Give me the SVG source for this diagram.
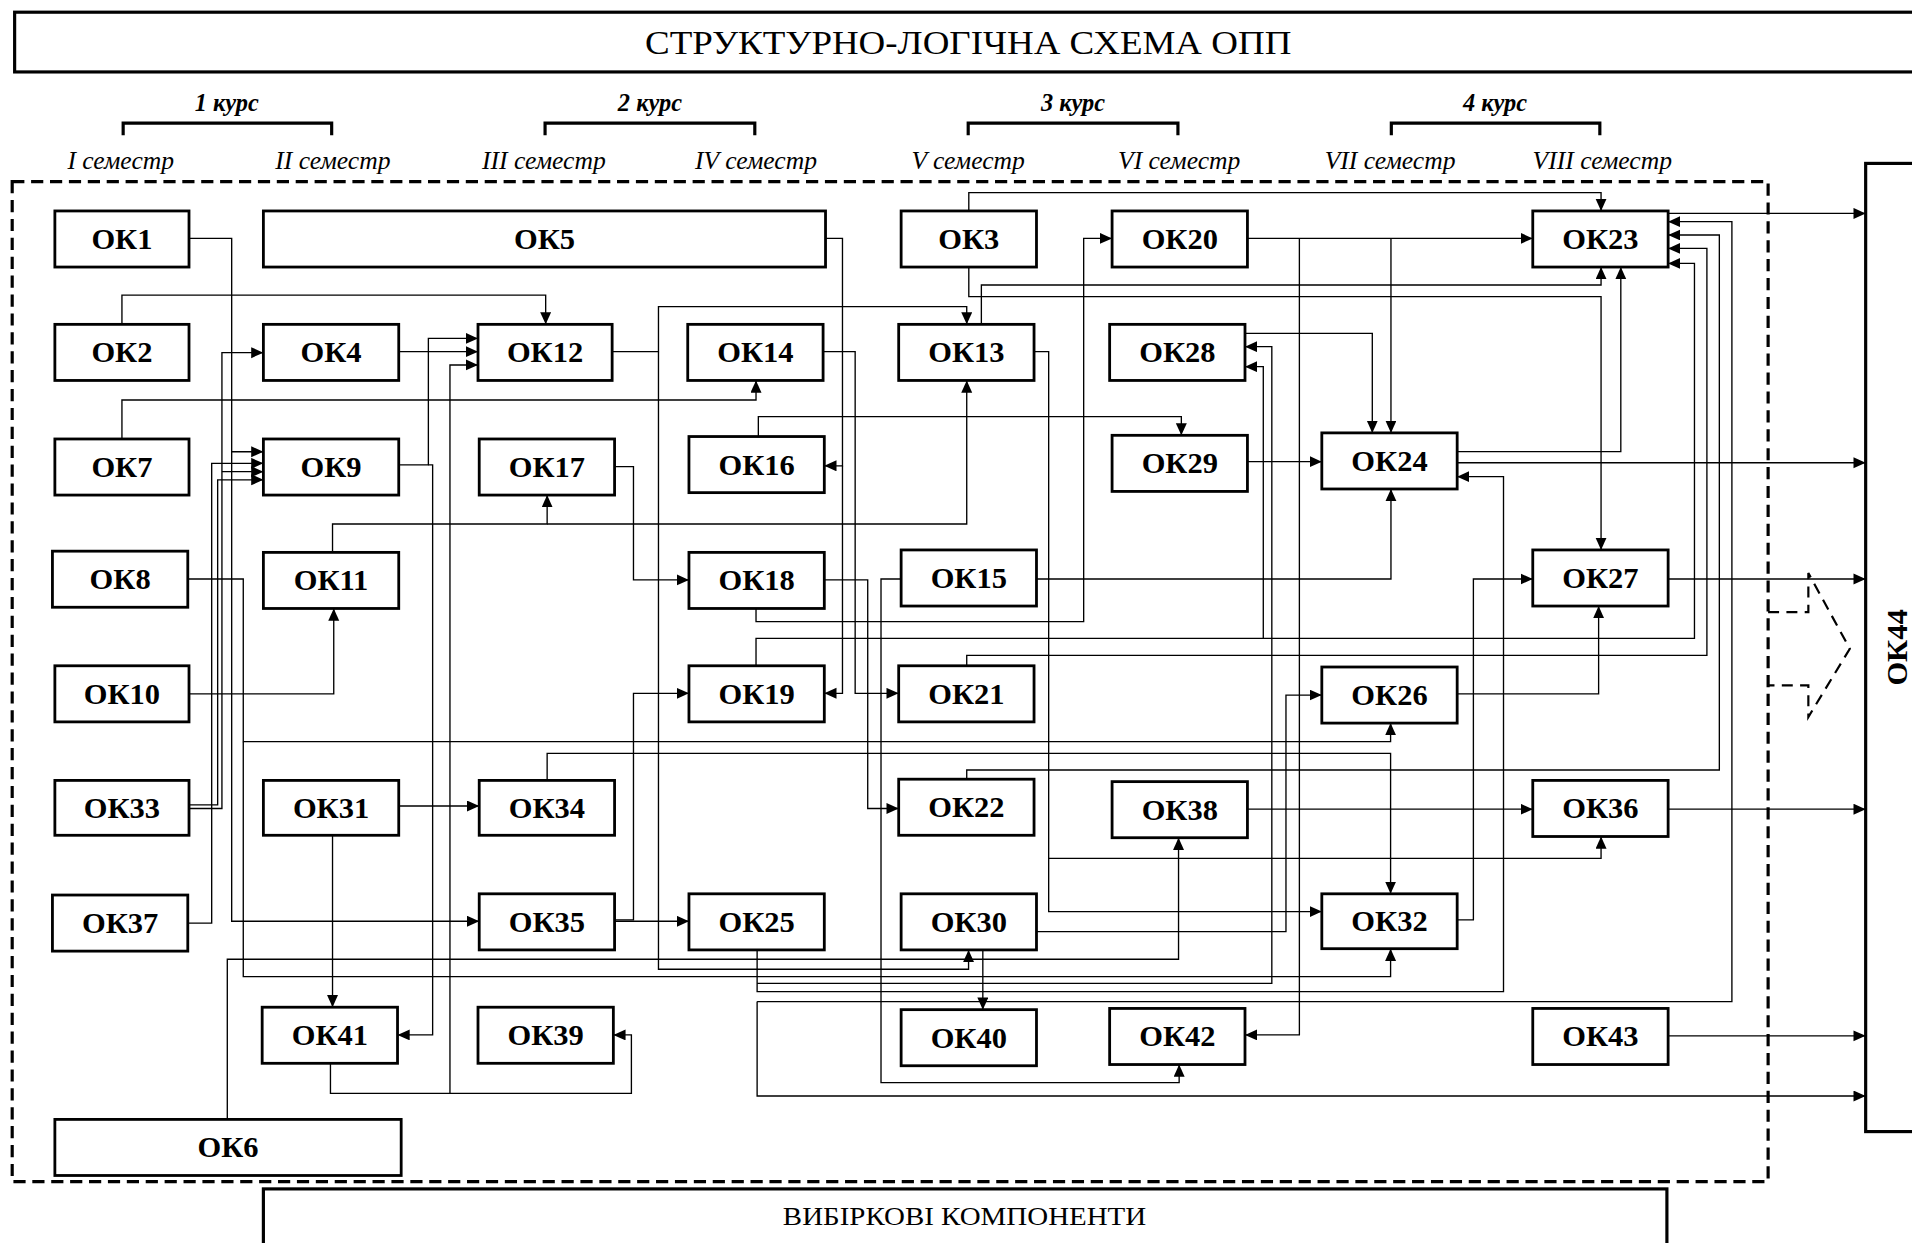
<svg xmlns="http://www.w3.org/2000/svg" width="1912" height="1243" viewBox="0 0 1912 1243">
<defs>
<marker id="ah" markerUnits="userSpaceOnUse" markerWidth="11" markerHeight="10" refX="10" refY="4.5" orient="auto"><path d="M0,0 L10,4.5 L0,9 z" fill="#000"/></marker>
<style>
.box{fill:#fff;stroke:#000;stroke-width:2.3}
.frame{fill:none;stroke:#000;stroke-width:2.6}
.lbl{font-family:"Liberation Serif","Times New Roman",serif;font-weight:bold;font-size:25px;text-anchor:middle;dominant-baseline:central;fill:#000}
.cn path{fill:none;stroke:#000;stroke-width:1.1}
.cn path.a{marker-end:url(#ah)}
.head{font-family:"Liberation Serif","Times New Roman",serif;font-size:28px;text-anchor:middle;dominant-baseline:central}
.kurs{font-family:"Liberation Serif","Times New Roman",serif;font-size:20px;font-weight:bold;font-style:italic;text-anchor:middle}
.sem{font-family:"Liberation Serif","Times New Roman",serif;font-size:21px;font-style:italic;text-anchor:middle}
.dash{fill:none;stroke:#000;stroke-width:2.6;stroke-dasharray:10 5.5}
.dasharrow{fill:none;stroke:#000;stroke-width:1.8;stroke-dasharray:9 6}
</style>
</defs>
<rect width="1912" height="1243" fill="#fff"/>
<g transform="scale(1.21939)">
<g id="title">
<rect class="frame" x="12" y="10" width="1600" height="49"/>
<text class="head" x="794" y="35" textLength="530" lengthAdjust="spacingAndGlyphs">СТРУКТУРНО-ЛОГІЧНА СХЕМА ОПП</text>
</g>
<g id="courses">
<path class="frame" d="M101,111 V101 H272 V111 M447,111 V101 H619 V111 M794,111 V101 H966 V111 M1141,111 V101 H1312 V111"/>
<text class="kurs" x="186" y="91">1 курс</text>
<text class="kurs" x="533" y="91">2 курс</text>
<text class="kurs" x="880" y="91">3 курс</text>
<text class="kurs" x="1226" y="91">4 курс</text>
<text class="sem" x="99" y="139">I семестр</text>
<text class="sem" x="273" y="139">II семестр</text>
<text class="sem" x="446" y="139">III семестр</text>
<text class="sem" x="620" y="139">IV семестр</text>
<text class="sem" x="794" y="139">V семестр</text>
<text class="sem" x="967" y="139">VI семестр</text>
<text class="sem" x="1140" y="139">VII семестр</text>
<text class="sem" x="1314" y="139">VIII семестр</text>
</g>
<rect id="mandatory" class="dash" x="10" y="149" width="1440" height="820"/>
<path id="transfer" class="dasharrow" d="M1450,502 H1483 V470 L1517,532 L1483,588 V562 H1450"/>
<g id="ok44"><rect class="frame" x="1530" y="134" width="100" height="794" fill="#fff"/><text class="lbl" transform="translate(1556,531) rotate(-90)">ОК44</text></g>
<g id="elective"><rect class="frame" x="216" y="975" width="1151" height="100" fill="#fff"/><text class="head" style="font-size:21px" x="791" y="998" textLength="298" lengthAdjust="spacingAndGlyphs">ВИБІРКОВІ КОМПОНЕНТИ</text></g>

<g id="connectors" class="cn">
<path class="a" d="M155,195.5 H190 V370.5 H216"/>
<path class="a" d="M190,370.5 V755.5 H393"/>
<path class="a" d="M100,266 V242 H447.5 V266"/>
<path class="a" d="M155,663 H182 V289.2 H216"/>
<path class="a" d="M182,386.8 H216"/>
<path class="a" d="M155,660 H178.5 V393.5 H216"/>
<path class="a" d="M154,757 H173.6 V380 H216"/>
<path class="a" d="M327,288.4 H392"/>
<path class="a" d="M327,381.3 H351.3 V277.5 H392"/>
<path class="a" d="M351.3,381.3 H354.8 V848.7 H326"/>
<path class="a" d="M271,872 V896.6 H517.8 V848.7 H503"/>
<path class="a" d="M369,896.6 V299.3 H392"/>
<path class="a" d="M100,360 V328 H620 V312"/>
<path class="a" d="M155,569 H273.7 V499"/>
<path class="a" d="M272.7,453 V429.7 H448.7 V406"/>
<path class="a" d="M448.7,429.7 H792.8 V312"/>
<path class="a" d="M154,474.8 H199.5 V608.2 H1140.4 V593"/>
<path class="a" d="M199.5,608.2 V800.9 H1140.4 V778"/>
<path class="a" d="M186.4,918 V786.7 H966.5 V687"/>
<path class="a" d="M502,288.4 H540 V251.5 H792.8 V266"/>
<path class="a" d="M540,288.4 V755.5 H565"/>
<path class="a" d="M540,755.5 V794.9 H794.3 V779"/>
<path class="a" d="M504,754.4 H519.5 V568.6 H565"/>
<path d="M504,755.5 H540"/>
<path class="a" d="M504,382.7 H519.5 V475.6 H565"/>
<path class="a" d="M327,661 H393"/>
<path class="a" d="M272.7,685 V826"/>
<path class="a" d="M448.7,640 V617.8 H1140.4 V733"/>
<path class="a" d="M677,195.5 H690.9 V382 H676"/>
<path class="a" d="M690.9,382 V568.6 H676"/>
<path class="a" d="M675,288.4 H701.3 V568.6 H737"/>
<path class="a" d="M676,475.6 H711.6 V663 H737"/>
<path class="a" d="M621.9,358 V341.7 H968.8 V357"/>
<path class="a" d="M620,499 V509.8 H888.7 V195.5 H912"/>
<path class="a" d="M739,474.8 H722.5 V887.8 H967 V873"/>
<path class="a" d="M850,474.8 H1140.7 V401"/>
<path class="a" d="M794.5,173 V158 H1313 V173"/>
<path class="a" d="M794.5,219 V243.3 H1313 V451"/>
<path class="a" d="M804.8,266 V233.7 H1313 V219"/>
<path class="a" d="M848,288.4 H860 V747.6 H1084"/>
<path class="a" d="M860,704 H1313 V686"/>
<path class="a" d="M1023,195.5 H1257"/>
<path class="a" d="M1140.7,195.5 V355"/>
<path class="a" d="M1065.6,195.5 V848.7 H1021"/>
<path class="a" d="M1021,273.4 H1125.4 V355"/>
<path class="a" d="M1023,378.6 H1084"/>
<path class="a" d="M1195,370.4 H1329.2 V219"/>
<path class="a" d="M1195,379.5 H1530"/>
<path class="a" d="M620.9,779 V813.2 H1233 V390.9 H1195"/>
<path class="a" d="M620.9,806.4 H1043 V284.3 H1021"/>
<path class="a" d="M620.9,821.4 H1420.3 V181.8 H1368"/>
<path class="a" d="M620.9,821.4 V898.8 H1530"/>
<path class="a" d="M620,546 V523.5 H1389.6 V216 H1368"/>
<path class="a" d="M1036,523.5 V300.7 H1021"/>
<path class="a" d="M792.8,546 V537.5 H1399.8 V203.7 H1368"/>
<path class="a" d="M792.8,639 V631.5 H1410 V192.7 H1368"/>
<path class="a" d="M850,764 H1054.6 V570 H1084"/>
<path class="a" d="M806,779 V828"/>
<path class="a" d="M1195,569 H1311 V497"/>
<path class="a" d="M1195,754.4 H1208.3 V474.8 H1257"/>
<path class="a" d="M1368,474.8 H1530"/>
<path class="a" d="M1023,663.6 H1257"/>
<path class="a" d="M1368,663.6 H1530"/>
<path class="a" d="M1368,849.5 H1530"/>
<path class="a" d="M1368,175 H1530"/>
</g>

<g id="ok1"><rect class="box" x="45" y="173" width="110" height="46"/><text class="lbl" x="100" y="196">ОК1</text></g>
<g id="ok5"><rect class="box" x="216" y="173" width="461" height="46"/><text class="lbl" x="446.5" y="196">ОК5</text></g>
<g id="ok3"><rect class="box" x="739" y="173" width="111" height="46"/><text class="lbl" x="794.5" y="196">ОК3</text></g>
<g id="ok20"><rect class="box" x="912" y="173" width="111" height="46"/><text class="lbl" x="967.5" y="196">ОК20</text></g>
<g id="ok23"><rect class="box" x="1257" y="173" width="111" height="46"/><text class="lbl" x="1312.5" y="196">ОК23</text></g>
<g id="ok2"><rect class="box" x="45" y="266" width="110" height="46"/><text class="lbl" x="100" y="289">ОК2</text></g>
<g id="ok4"><rect class="box" x="216" y="266" width="111" height="46"/><text class="lbl" x="271.5" y="289">ОК4</text></g>
<g id="ok12"><rect class="box" x="392" y="266" width="110" height="46"/><text class="lbl" x="447" y="289">ОК12</text></g>
<g id="ok14"><rect class="box" x="564" y="266" width="111" height="46"/><text class="lbl" x="619.5" y="289">ОК14</text></g>
<g id="ok13"><rect class="box" x="737" y="266" width="111" height="46"/><text class="lbl" x="792.5" y="289">ОК13</text></g>
<g id="ok28"><rect class="box" x="910" y="266" width="111" height="46"/><text class="lbl" x="965.5" y="289">ОК28</text></g>
<g id="ok7"><rect class="box" x="45" y="360" width="110" height="46"/><text class="lbl" x="100" y="383">ОК7</text></g>
<g id="ok9"><rect class="box" x="216" y="360" width="111" height="46"/><text class="lbl" x="271.5" y="383">ОК9</text></g>
<g id="ok17"><rect class="box" x="393" y="360" width="111" height="46"/><text class="lbl" x="448.5" y="383">ОК17</text></g>
<g id="ok16"><rect class="box" x="565" y="358" width="111" height="46"/><text class="lbl" x="620.5" y="381">ОК16</text></g>
<g id="ok29"><rect class="box" x="912" y="357" width="111" height="46"/><text class="lbl" x="967.5" y="380">ОК29</text></g>
<g id="ok24"><rect class="box" x="1084" y="355" width="111" height="46"/><text class="lbl" x="1139.5" y="378">ОК24</text></g>
<g id="ok8"><rect class="box" x="43" y="452" width="111" height="46"/><text class="lbl" x="98.5" y="475">ОК8</text></g>
<g id="ok11"><rect class="box" x="216" y="453" width="111" height="46"/><text class="lbl" x="271.5" y="476">ОК11</text></g>
<g id="ok18"><rect class="box" x="565" y="453" width="111" height="46"/><text class="lbl" x="620.5" y="476">ОК18</text></g>
<g id="ok15"><rect class="box" x="739" y="451" width="111" height="46"/><text class="lbl" x="794.5" y="474">ОК15</text></g>
<g id="ok27"><rect class="box" x="1257" y="451" width="111" height="46"/><text class="lbl" x="1312.5" y="474">ОК27</text></g>
<g id="ok10"><rect class="box" x="45" y="546" width="110" height="46"/><text class="lbl" x="100" y="569">ОК10</text></g>
<g id="ok19"><rect class="box" x="565" y="546" width="111" height="46"/><text class="lbl" x="620.5" y="569">ОК19</text></g>
<g id="ok21"><rect class="box" x="737" y="546" width="111" height="46"/><text class="lbl" x="792.5" y="569">ОК21</text></g>
<g id="ok26"><rect class="box" x="1084" y="547" width="111" height="46"/><text class="lbl" x="1139.5" y="570">ОК26</text></g>
<g id="ok33"><rect class="box" x="45" y="640" width="110" height="45"/><text class="lbl" x="100" y="662.5">ОК33</text></g>
<g id="ok31"><rect class="box" x="216" y="640" width="111" height="45"/><text class="lbl" x="271.5" y="662.5">ОК31</text></g>
<g id="ok34"><rect class="box" x="393" y="640" width="111" height="45"/><text class="lbl" x="448.5" y="662.5">ОК34</text></g>
<g id="ok22"><rect class="box" x="737" y="639" width="111" height="46"/><text class="lbl" x="792.5" y="662">ОК22</text></g>
<g id="ok38"><rect class="box" x="912" y="641" width="111" height="46"/><text class="lbl" x="967.5" y="664">ОК38</text></g>
<g id="ok36"><rect class="box" x="1257" y="640" width="111" height="46"/><text class="lbl" x="1312.5" y="663">ОК36</text></g>
<g id="ok37"><rect class="box" x="43" y="734" width="111" height="46"/><text class="lbl" x="98.5" y="757">ОК37</text></g>
<g id="ok35"><rect class="box" x="393" y="733" width="111" height="46"/><text class="lbl" x="448.5" y="756">ОК35</text></g>
<g id="ok25"><rect class="box" x="565" y="733" width="111" height="46"/><text class="lbl" x="620.5" y="756">ОК25</text></g>
<g id="ok30"><rect class="box" x="739" y="733" width="111" height="46"/><text class="lbl" x="794.5" y="756">ОК30</text></g>
<g id="ok32"><rect class="box" x="1084" y="733" width="111" height="45"/><text class="lbl" x="1139.5" y="755.5">ОК32</text></g>
<g id="ok41"><rect class="box" x="215" y="826" width="111" height="46"/><text class="lbl" x="270.5" y="849">ОК41</text></g>
<g id="ok39"><rect class="box" x="392" y="826" width="111" height="46"/><text class="lbl" x="447.5" y="849">ОК39</text></g>
<g id="ok40"><rect class="box" x="739" y="828" width="111" height="46"/><text class="lbl" x="794.5" y="851">ОК40</text></g>
<g id="ok42"><rect class="box" x="910" y="827" width="111" height="46"/><text class="lbl" x="965.5" y="850">ОК42</text></g>
<g id="ok43"><rect class="box" x="1257" y="827" width="111" height="46"/><text class="lbl" x="1312.5" y="850">ОК43</text></g>
<g id="ok6"><rect class="box" x="45" y="918" width="284" height="46"/><text class="lbl" x="187" y="941">ОК6</text></g>
</g>
</svg>
